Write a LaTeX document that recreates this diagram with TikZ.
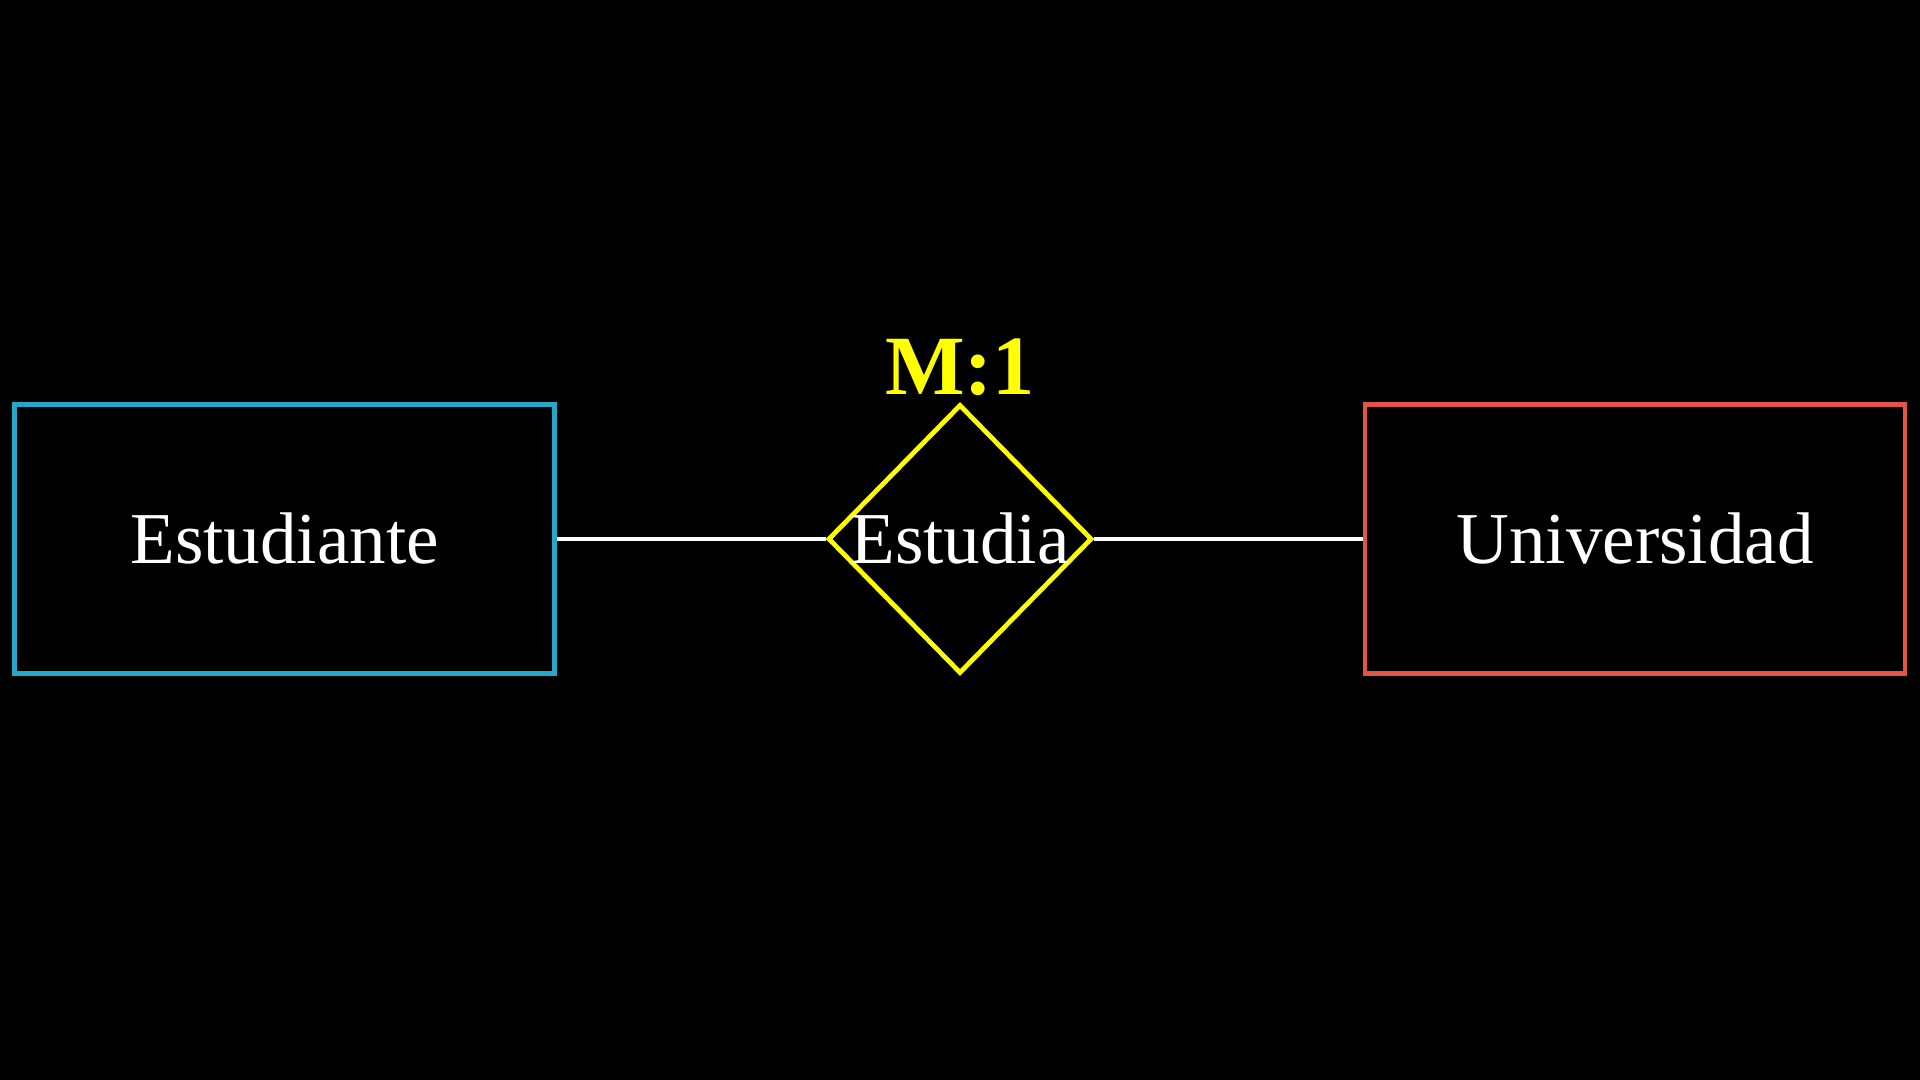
\documentclass[tikz,border=0pt]{standalone}
\usepackage{fontspec}
\setmainfont{Liberation Serif}
\usetikzlibrary{positioning}
\usetikzlibrary{shapes.geometric}
\definecolor{entityColor}{RGB}{36,168,200}
\definecolor{entityColorBis}{RGB}{228,84,70}
\definecolor{relColor}{RGB}{255,255,0}

\begin{document}
\begin{tikzpicture}

          \tikzstyle{entityNode} = [draw=entityColor, line width=1.35pt, minimum width=5.4cm, minimum height=2.695cm, inner sep=0pt, text=white, font=\fontsize{20.8}{24}\selectfont];
          \tikzstyle{entityNodeBis} = [entityNode, draw=entityColorBis];
          \tikzstyle{relNode} = [diamond, draw=relColor, line width=1.35pt, minimum width=2.64cm, minimum height=2.69cm, inner sep=0pt];
          \tikzstyle{relText} = [white, font=\fontsize{20.8}{24}\selectfont];
          \tikzstyle{cardText} = [relColor, font=\fontsize{24}{28}\selectfont\bfseries];

          \tikzstyle{normalEdge} = [white, line width=1.35pt];

          \fill[black] (0,0) rectangle (19.2,10.8);
          \useasboundingbox (0,0) rectangle (19.2,10.8);

          \node[entityNode] (estudiante) at (2.847,5.41) {Estudiante};
          \node[relNode, label={[relText]center:Estudia}] (estudia) at (9.6,5.41) {};
          \node[entityNodeBis] (universidad) at (16.35,5.41) {Universidad};
          \node[cardText, anchor=base] (card) at (9.6,6.85) {M:1};

          \draw[normalEdge] (estudiante) -- (estudia);
          \draw[normalEdge] (estudia) -- (universidad);
        \end{tikzpicture}
\end{document}
